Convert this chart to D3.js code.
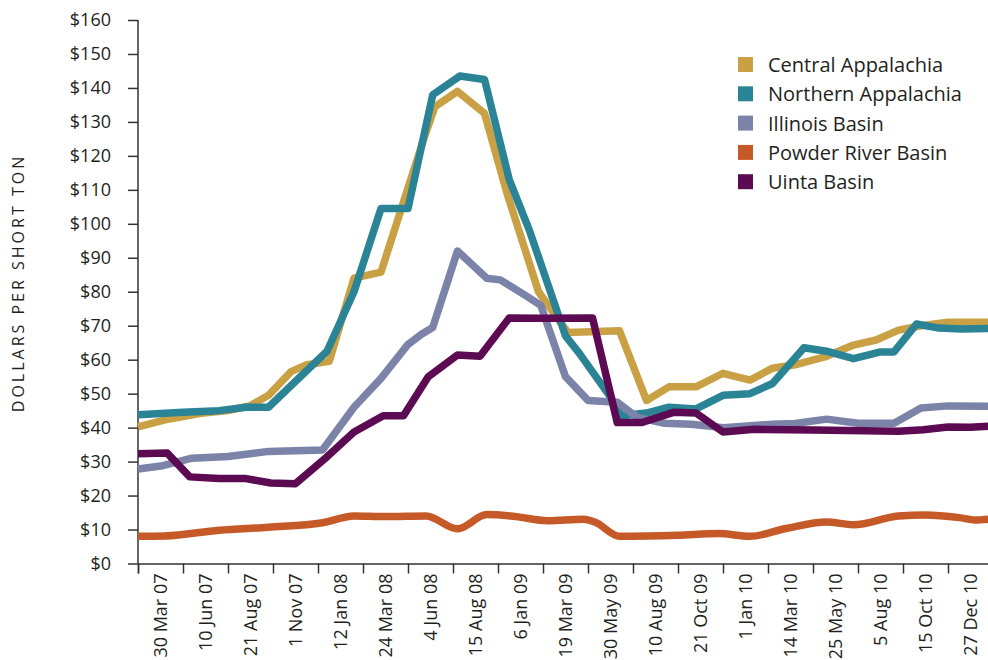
<!DOCTYPE html>
<html>
<head>
<meta charset="utf-8">
<script src="https://d3js.org/d3.v7.min.js"></script>
<style>
  body { margin: 0; background: #fff; }
  text { font-family: "Open Sans", sans-serif; fill: #231f20; }
  .axis path, .axis line { stroke: #333; stroke-width: 1.5; }
  .line { fill: none; stroke-width: 7.5; stroke-linejoin: round; stroke-linecap: butt; }
</style>
</head>
<body>
<div id="chart"></div>
<script>
// x labels, one per band (band index = data x unit)
var dateLabels = ['30 Mar 07','10 Jun 07','21 Aug 07','1 Nov 07','12 Jan 08','24 Mar 08','4 Jun 08',
  '15 Aug 08','6 Jan 09','19 Mar 09','30 May 09','10 Aug 09','21 Oct 09','1 Jan 10','14 Mar 10',
  '25 May 10','5 Aug 10','15 Oct 10','27 Dec 10'];

var yTicks = [0,10,20,30,40,50,60,70,80,90,100,110,120,130,140,150,160];

var seriesNames = ['Central Appalachia','Northern Appalachia','Illinois Basin','Powder River Basin','Uinta Basin'];
var seriesColors = ['#c9a144','#2a8496','#7b83a9','#c55a28','#5c0a52'];

// [band position, dollars per short ton]
var central = [[0,40.2],[0.6,42.3],[1.4,44.2],[2,45],[2.5,46.5],[2.9,49.5],[3.4,56.5],[3.75,58.5],[4.25,59.5],
  [4.8,84],[5.4,85.8],[6.35,125],[6.6,134.5],[7.1,139],[7.7,132.5],[8.2,109],[8.9,80],[9.55,68],[10.7,68.5],
  [11.3,48],[11.8,52],[12.4,52],[13,56],[13.6,54],[14.1,57.5],[14.6,58.5],[15.3,61],[15.9,64.3],[16.4,65.8],
  [16.9,68.7],[17.4,70],[18,71],[19,71]];
var northern = [[0,43.8],[1,44.5],[1.8,45],[2.4,46],[2.9,46],[3.45,53],[4.2,62.5],[4.8,80],[5.4,104.5],[6,104.5],
  [6.55,138],[7.15,143.5],[7.7,142.5],[8.25,113],[8.7,98],[9.5,67],[9.8,62],[10.5,49],[10.75,43.5],[11.3,44.3],
  [11.8,46],[12.4,45.5],[13,49.5],[13.6,50],[14.1,53],[14.8,63.5],[15.3,62.5],[15.9,60.3],[16.5,62.3],[16.8,62.3],
  [17.3,70.5],[17.8,69.3],[18.3,69],[19,69.2]];
var illinois = [[0,27.8],[0.55,28.8],[1.2,31],[2,31.5],[2.9,33],[4.1,33.4],[4.8,46],[5.4,54.5],[6,64.5],[6.3,67.5],
  [6.55,69.5],[7.1,92],[7.75,84],[8.05,83.5],[8.6,79],[8.95,76],[9.5,55],[10,48],[10.65,47.5],[11.1,43],[11.7,41.3],
  [12.3,41],[13,40],[14.1,41],[14.6,41.2],[15.3,42.5],[16,41.3],[16.8,41.3],[17.4,45.8],[18,46.4],[19,46.3]];
var powder = [[0,8],[0.6,8.1],[1.8,9.8],[2.9,10.7],[4.1,12],[4.8,14],[5.5,13.8],[6.4,14],[7.1,10.2],[7.75,14.4],
  [8.4,13.8],[9.1,12.6],[9.9,13],[10.15,12.2],[10.7,8],[12,8.3],[12.9,8.8],[13.6,8],[14.4,10.3],[15.3,12.2],
  [15.9,11.4],[16.9,14],[17.5,14.3],[18.25,13.5],[18.6,12.8],[19,13.2]];
var uinta = [[0,32.3],[0.65,32.5],[1.15,25.5],[1.8,25],[2.4,25],[2.95,23.7],[3.5,23.5],[4.2,31.4],[4.8,38.7],
  [5.45,43.5],[5.9,43.5],[6.45,55],[7.1,61.4],[7.6,61],[8.25,72.3],[8.9,72.2],[10.1,72.3],[10.65,41.5],[11.2,41.5],
  [11.9,44.5],[12.4,44.3],[13,38.7],[13.7,39.5],[15,39.3],[16.9,38.9],[17.45,39.4],[18,40.2],[18.5,40.1],[19,40.5]];

var seriesData = [central, northern, illinois, powder, uinta];
// powder river is drawn smooth, the rest straight
var seriesCurves = [d3.curveLinear, d3.curveLinear, d3.curveLinear, d3.curveMonotoneX, d3.curveLinear];

var W = 988, H = 660;
var margin = {top: 20, left: 138, bottom: 96.5},
    plotRight = 993;

var svg = d3.select('#chart').append('svg')
            .attr('width', W)
            .attr('height', H);

var x = d3.scaleLinear()
          .domain([0, dateLabels.length])
          .range([margin.left, plotRight]);
var y = d3.scaleLinear()
          .domain([0, 160])
          .range([H - margin.bottom, margin.top]);

// Y axis
svg.append('g').attr('class','axis')
   .attr('transform','translate(' + margin.left + ',0)')
   .call(d3.axisLeft(y).tickValues(yTicks).tickSize(10).tickPadding(17)
           .tickFormat(function(d){ return '$' + d; }))
   .call(function(g){ g.select('.domain').attr('d', 'M0,' + y(160) + 'V' + y(0)); })
   .selectAll('text').style('font-size','18px').attr('fill','#231f20');

// X axis: ticks on band edges, labels in band centres
svg.append('g').attr('class','axis')
   .attr('transform','translate(0,' + y(0) + ')')
   .call(d3.axisBottom(x).tickValues(d3.range(0, dateLabels.length + 1)).tickSize(10).tickFormat(''));

svg.append('g').attr('class','axis xlab')
   .attr('transform','translate(0,' + y(0) + ')')
   .call(d3.axisBottom(x).tickValues(d3.range(dateLabels.length).map(function(i){ return i + 0.5; }))
           .tickSize(0).tickFormat(function(d){ return dateLabels[Math.floor(d)]; }))
   .call(function(g){ g.select('.domain').remove(); })
   .selectAll('text')
     .style('font-size','18px')
     .attr('fill','#231f20')
     .attr('text-anchor','end')
     .attr('transform','rotate(-90)')
     .attr('x', -10)
     .attr('y', 0)
     .attr('dy', '0.35em')
     .attr('dx', 0);

// Y label
svg.append('text')
   .attr('text-anchor','middle')
   .attr('transform','translate(24,' + 283 + ') rotate(-90)')
   .style('font-size','16px')
   .style('letter-spacing','3px')
   .text('DOLLARS PER SHORT TON');

// lines
svg.append('g').selectAll('path')
   .data(seriesData)
   .enter().append('path')
   .attr('class','line')
   .attr('stroke', function(d,i){ return seriesColors[i]; })
   .attr('d', function(d,i){
     return d3.line()
              .curve(seriesCurves[i])
              .x(function(p){ return x(p[0]); })
              .y(function(p){ return y(p[1]); })(d);
   });

// legend
var legend = svg.append('g').attr('transform','translate(738,57)');
var item = legend.selectAll('g')
   .data(seriesNames)
   .enter().append('g')
   .attr('transform', function(d,i){ return 'translate(0,' + (i * 29.3) + ')'; });
item.append('rect')
    .attr('width', 15).attr('height', 15)
    .attr('fill', function(d,i){ return seriesColors[i]; });
item.append('text')
    .attr('x', 30).attr('y', 8).attr('dy','0.35em')
    .style('font-size','20px')
    .text(function(d){ return d; });
</script>
</body>
</html>
